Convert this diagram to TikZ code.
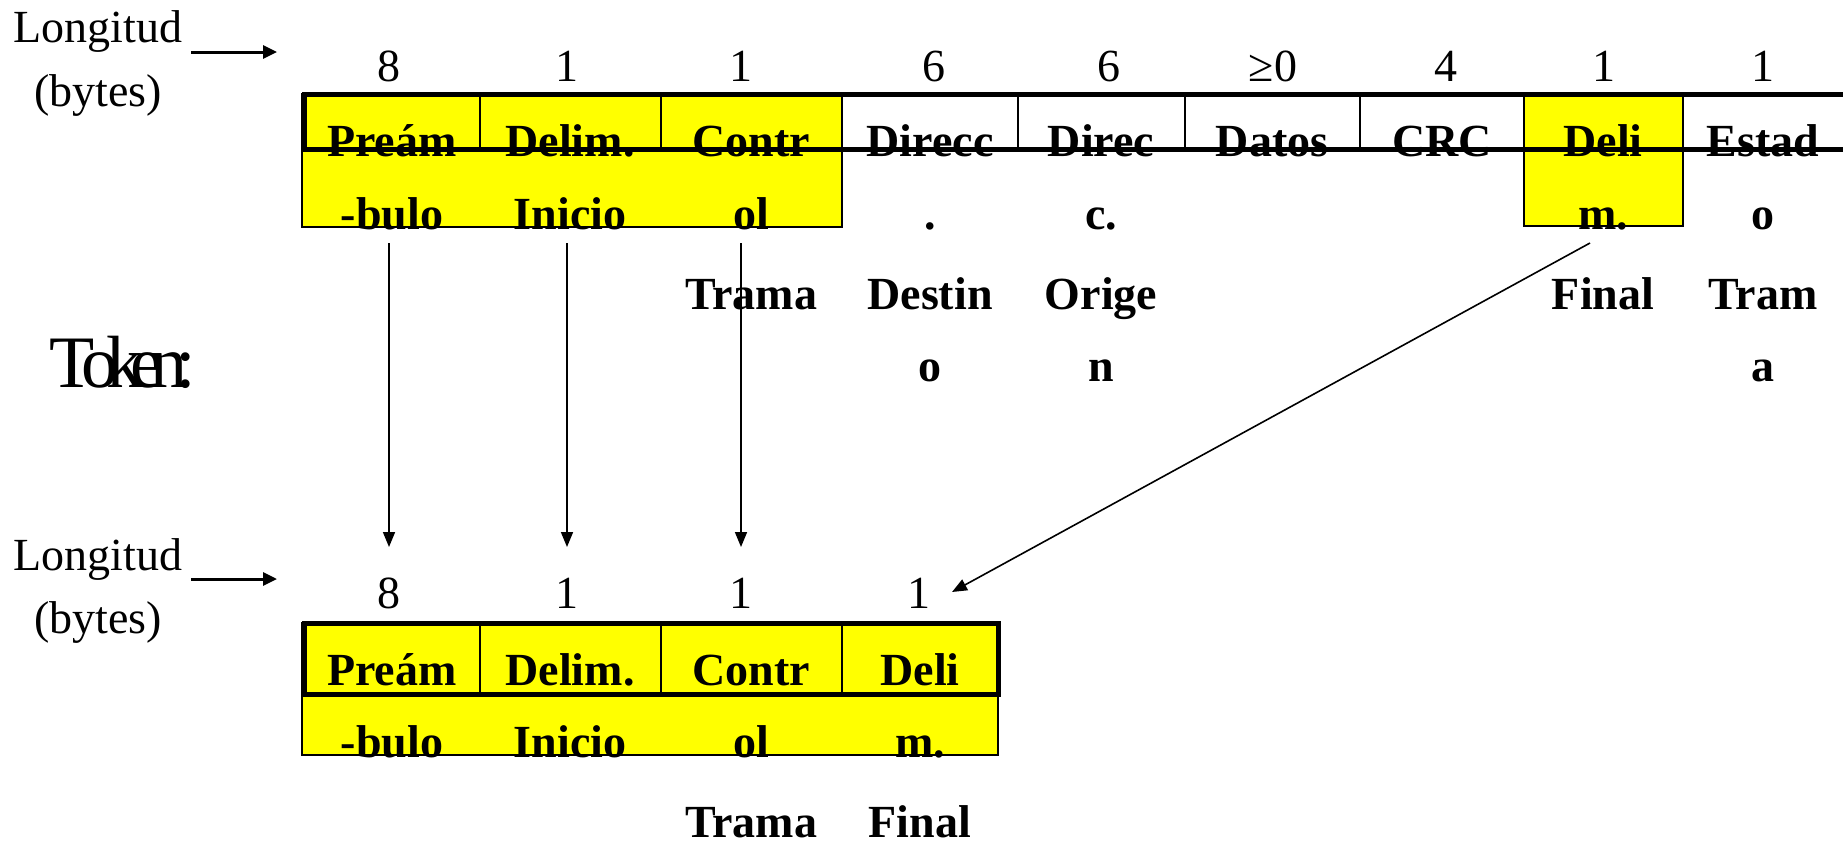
\documentclass[tikz,border=0pt]{standalone}
\usepackage{fontspec}
\setmainfont{Liberation Serif}
\usetikzlibrary{arrows.meta}
\definecolor{yel}{RGB}{255,255,0}
\begin{document}
\begin{tikzpicture}[x=0.5pt,y=-0.5pt,
  every node/.style={inner sep=0pt, outer sep=0pt},
  num/.style={anchor=base, font=\fontsize{23}{27}\selectfont},
  side/.style={anchor=base, font=\fontsize{23}{27}\selectfont},
  lbl/.style={anchor=base, font=\fontsize{23}{27}\selectfont\bfseries},
  frameline/.style={line width=2.5pt, line join=miter},
  divider/.style={line width=1pt},
  yelbox/.style={fill=yel, draw=black, line width=0.6pt},
  ptr/.style={line width=0.8pt, -{Triangle[length=7.5pt,width=6pt]}},
  lenarrow/.style={line width=1.5pt, -{Triangle[length=7pt,width=6.5pt]}}
]
\useasboundingbox (0,0) rectangle (1843,843);

% ---------- top frame ----------
\draw[yelbox] (302,94) rectangle (842,227);
\draw[yelbox] (1524,94) rectangle (1683,226);

\node[side] (lt) at (98,42) {Longitud};
\node[side] (bt) at (98,106) {(bytes)};
\coordinate (lta) at (191,52);
\coordinate (ltb) at (277,52);
\draw[lenarrow] (lta) -- (ltb);

\node[num] (n1) at (389,81) {8};
\node[num] (n2) at (567,81) {1};
\node[num] (n3) at (741,81) {1};
\node[num] (n4) at (934,81) {6};
\node[num] (n5) at (1109,81) {6};
\node[num] (n6) at (1273,81) {≥0};
\node[num] (n7) at (1446,81) {4};
\node[num] (n8) at (1604,81) {1};
\node[num] (n9) at (1763,81) {1};

% row 1
\node[lbl] (c1a) at (392,156) {Preám};
\node[lbl] (c2a) at (570,156) {Delim.};
\node[lbl] (c3a) at (751,156) {Contr};
\node[lbl] (c4a) at (930,156) {Direcc};
\node[lbl] (c5a) at (1101,156) {Direc};
\node[lbl] (c6a) at (1272,156) {Datos};
\node[lbl] (c7a) at (1442,156) {CRC};
\node[lbl] (c8a) at (1603,156) {Deli};
\node[lbl] (c9a) at (1763,156) {Estad};
% row 2
\node[lbl] (c1b) at (392,229) {-bulo};
\node[lbl] (c2b) at (570,229) {Inicio};
\node[lbl] (c3b) at (751,229) {ol};
\node[lbl] (c4b) at (930,229) {.};
\node[lbl] (c5b) at (1101,229) {c.};
\node[lbl] (c8b) at (1603,229) {m.};
\node[lbl] (c9b) at (1763,229) {o};
% row 3
\node[lbl] (c3c) at (751,309) {Trama};
\node[lbl] (c4c) at (930,309) {Destin};
\node[lbl] (c5c) at (1101,309) {Orige};
\node[lbl] (c8c) at (1603,309) {Final};
\node[lbl] (c9c) at (1763,309) {Tram};
% row 4
\node[lbl] (c4d) at (930,381) {o};
\node[lbl] (c5d) at (1101,381) {n};
\node[lbl] (c9d) at (1763,381) {a};

\draw[frameline] (1843,94) -- (304,94) -- (304,149) -- (1843,149);
\foreach \x in {480,661,842,1018,1185,1360,1524,1683}
  \draw[divider] (\x,94) -- (\x,149);

% ---------- Token ----------
\node[anchor=base west, font=\fontsize{37}{40}\selectfont] (tok) at (49,387)
  {T\kern-.17em o\kern-.17em k\kern-.17em e\kern-.17em n\kern-.17em :};

% ---------- bottom frame ----------
\draw[yelbox] (302,623) rectangle (998,755);

\node[side] (lb) at (98,570) {Longitud};
\node[side] (bb) at (98,633) {(bytes)};
\coordinate (lba) at (191,579);
\coordinate (lbb) at (277,579);
\draw[lenarrow] (lba) -- (lbb);

\node[num] (m1) at (389,608) {8};
\node[num] (m2) at (567,608) {1};
\node[num] (m3) at (741,608) {1};
\node[num] (m4) at (919,608) {1};

\node[lbl] (d1a) at (392,685) {Preám};
\node[lbl] (d2a) at (570,685) {Delim.};
\node[lbl] (d3a) at (751,685) {Contr};
\node[lbl] (d4a) at (920,685) {Deli};
\node[lbl] (d1b) at (392,757) {-bulo};
\node[lbl] (d2b) at (570,757) {Inicio};
\node[lbl] (d3b) at (751,757) {ol};
\node[lbl] (d4b) at (920,757) {m.};
\node[lbl] (d3c) at (751,837) {Trama};
\node[lbl] (d4c) at (920,837) {Final};

\draw[frameline] (304,623) rectangle (998,694);
\foreach \x in {480,661,842}
  \draw[divider] (\x,623) -- (\x,694);

% ---------- connectors ----------
\coordinate (s1) at (389,243);
\coordinate (e1) at (389,547);
\coordinate (s2) at (567,243);
\coordinate (e2) at (567,547);
\coordinate (s3) at (741,243);
\coordinate (e3) at (741,547);
\coordinate (s4) at (1590,243);
\coordinate (e4) at (952,592);
\draw[ptr] (s1) -- (e1);
\draw[ptr] (s2) -- (e2);
\draw[ptr] (s3) -- (e3);
\draw[ptr] (s4) -- (e4);
\end{tikzpicture}
\end{document}
